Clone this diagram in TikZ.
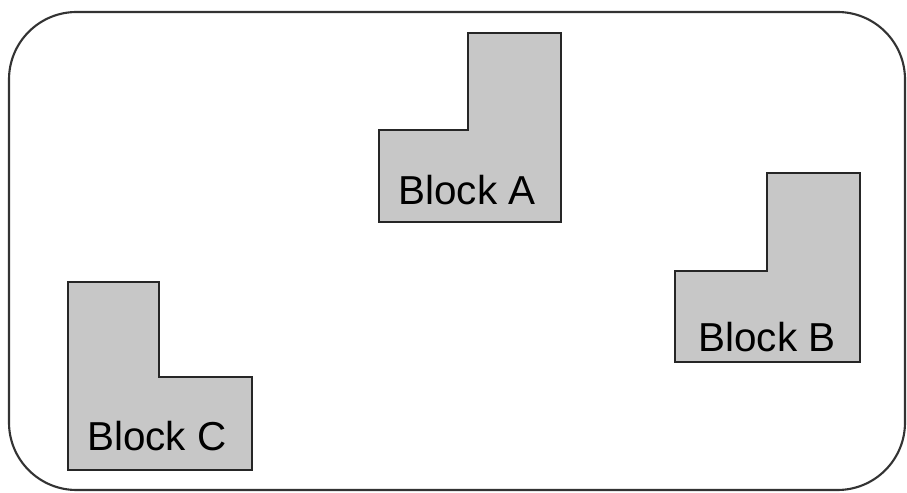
\documentclass[tikz,border=0pt]{standalone}
\usepackage{fontspec}
\setmainfont{Liberation Sans}
\usepackage{xcolor}
\usetikzlibrary{positioning}

\begin{document}
\begin{tikzpicture}[
    x=0.02cm, y=-0.02cm,
    frame/.style={draw=black!80, line width=1.2pt, rounded corners=1.35cm},
    block/.style={draw=black!85, fill=black!22, line width=1.1pt, line join=miter},
    blocklabel/.style={font=\fontsize{23}{27}\selectfont, inner sep=0pt}
]
\useasboundingbox (0,0) rectangle (907,493);

% Rahmen
\draw[frame] (9,12) rectangle (905,490);

% Block A und B: Stufe links unten
\foreach \name/\xl/\xs/\xr/\yt/\ys/\yb in {A/379/468/561/33/130/222, B/675/767/860/173/271/362} {
    \draw[block] (\xs,\yt) -- (\xr,\yt) -- (\xr,\yb) -- (\xl,\yb) -- (\xl,\ys) -- (\xs,\ys) -- cycle;
}

% Block C: Stufe rechts unten
\draw[block] (68,282) -- (159,282) -- (159,377) -- (252,377) -- (252,470) -- (68,470) -- cycle;

% Beschriftungen
\node[blocklabel] (labA) at (467,190) {Block A};
\node[blocklabel] (labB) at (767,337) {Block B};
\node[blocklabel] (labC) at (157,436) {Block C};

\end{tikzpicture}
\end{document}
